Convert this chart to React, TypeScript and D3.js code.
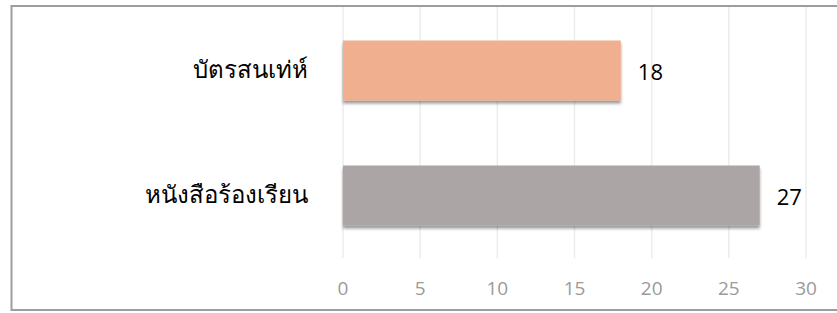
import React from "react";
import * as d3 from "d3";

const categories = ["บัตรสนเท่ห์", "หนังสือร้องเรียน"];
const values = [18, 27];
const barColors = ["#F0AF8F", "#ABA5A6"];
const tickValues = [0, 5, 10, 15, 20, 25, 30];

const W = 837;
const H = 313;

export default function App() {
  const x = d3.scaleLinear().domain([0, 30]).range([343, 806]);
  const y = d3
    .scaleBand<string>()
    .domain(categories)
    .range([8, 258])
    .paddingInner(0.52)
    .paddingOuter(0.26);

  return (
    <svg
      width={W}
      height={H}
      style={{ position: "absolute", left: 0, top: 0, background: "#fff" }}
    >
      <defs>
        <filter id="sh" x="-5%" y="-20%" width="110%" height="150%">
          <feDropShadow dx="0" dy="3" stdDeviation="1.4" floodColor="#000" floodOpacity="0.4" />
        </filter>
      </defs>
      <rect x={11.5} y={6} width={840} height={304} fill="#fff" stroke="#9d9d9d" strokeWidth={2} />
      {tickValues.map((t) => (
        <line
          key={"g" + t}
          x1={x(t)}
          x2={x(t)}
          y1={7}
          y2={258}
          stroke="#ececec"
          strokeWidth={1.5}
        />
      ))}
      {categories.map((c, i) => (
        <rect
          key={"b" + c}
          x={x(0)}
          y={y(c)!}
          width={x(values[i]) - x(0)}
          height={y.bandwidth()}
          fill={barColors[i]}
          filter="url(#sh)"
        />
      ))}
      {categories.map((c, i) => (
        <text
          key={"v" + c}
          x={x(values[i]) + 17}
          y={y(c)! + y.bandwidth() / 2}
          dominantBaseline="central"
          fontFamily="'Open Sans', 'Noto Sans', sans-serif"
          fontSize={22}
          fill="#000"
        >
          {values[i]}
        </text>
      ))}
      {categories.map((c) => (
        <text
          key={"c" + c}
          x={308}
          y={y(c)! + y.bandwidth() / 2 - 2}
          textAnchor="end"
          dominantBaseline="central"
          fontFamily="'Noto Sans', 'DejaVu Sans', sans-serif"
          fontSize={24}
          fontWeight={300}
          fill="#000"
        >
          {c}
        </text>
      ))}
      {tickValues.map((t) => (
        <text
          key={"t" + t}
          x={x(t)}
          y={288}
          textAnchor="middle"
          dominantBaseline="central"
          fontFamily="'Open Sans', 'Noto Sans', sans-serif"
          fontSize={19}
          fill="#9a9a9a"
        >
          {t}
        </text>
      ))}
    </svg>
  );
}
